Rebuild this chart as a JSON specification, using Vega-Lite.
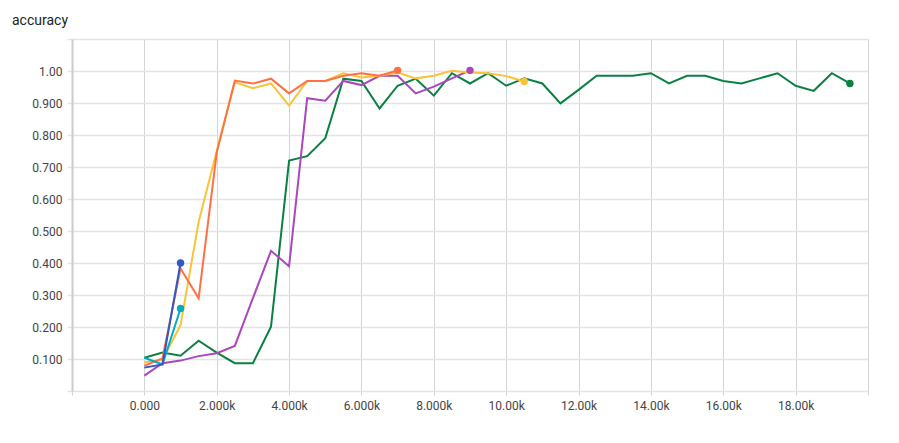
{
  "$schema": "https://vega.github.io/schema/vega-lite/v6.json",
  "width": 796,
  "height": 352,
  "autosize": {"type": "none"},
  "padding": {"left": 72, "top": 39, "right": 31, "bottom": 52},
  "background": "white",
  "title": {"text": "accuracy", "anchor": "start", "frame": "group", "dx": -60, "dy": 16, "offset": 12, "baseline": "bottom", "fontSize": 14, "font": "Roboto", "fontWeight": "normal", "color": "#212121"},
  "config": {
    "view": {"stroke": null},
    "font": "Roboto"
  },
  "datasets": {
    "runs": [
      {"run": "green", "step": 0, "acc": 0.104},
      {"run": "green", "step": 500, "acc": 0.12},
      {"run": "green", "step": 1000, "acc": 0.11},
      {"run": "green", "step": 1500, "acc": 0.157},
      {"run": "green", "step": 2000, "acc": 0.12},
      {"run": "green", "step": 2500, "acc": 0.087},
      {"run": "green", "step": 3000, "acc": 0.087},
      {"run": "green", "step": 3500, "acc": 0.201},
      {"run": "green", "step": 4000, "acc": 0.72},
      {"run": "green", "step": 4500, "acc": 0.734},
      {"run": "green", "step": 5000, "acc": 0.79},
      {"run": "green", "step": 5500, "acc": 0.976},
      {"run": "green", "step": 6000, "acc": 0.969},
      {"run": "green", "step": 6500, "acc": 0.883},
      {"run": "green", "step": 7000, "acc": 0.954},
      {"run": "green", "step": 7500, "acc": 0.976},
      {"run": "green", "step": 8000, "acc": 0.923},
      {"run": "green", "step": 8500, "acc": 0.993},
      {"run": "green", "step": 9000, "acc": 0.961},
      {"run": "green", "step": 9500, "acc": 0.993},
      {"run": "green", "step": 10000, "acc": 0.954},
      {"run": "green", "step": 10500, "acc": 0.977},
      {"run": "green", "step": 11000, "acc": 0.961},
      {"run": "green", "step": 11500, "acc": 0.899},
      {"run": "green", "step": 12000, "acc": 0.941},
      {"run": "green", "step": 12500, "acc": 0.985},
      {"run": "green", "step": 13000, "acc": 0.985},
      {"run": "green", "step": 13500, "acc": 0.985},
      {"run": "green", "step": 14000, "acc": 0.993},
      {"run": "green", "step": 14500, "acc": 0.961},
      {"run": "green", "step": 15000, "acc": 0.985},
      {"run": "green", "step": 15500, "acc": 0.985},
      {"run": "green", "step": 16000, "acc": 0.969},
      {"run": "green", "step": 16500, "acc": 0.961},
      {"run": "green", "step": 17000, "acc": 0.977},
      {"run": "green", "step": 17500, "acc": 0.993},
      {"run": "green", "step": 18000, "acc": 0.954},
      {"run": "green", "step": 18500, "acc": 0.938},
      {"run": "green", "step": 19000, "acc": 0.993},
      {"run": "green", "step": 19500, "acc": 0.961},
      {"run": "purple", "step": 0, "acc": 0.048},
      {"run": "purple", "step": 500, "acc": 0.087},
      {"run": "purple", "step": 1000, "acc": 0.095},
      {"run": "purple", "step": 1500, "acc": 0.109},
      {"run": "purple", "step": 2000, "acc": 0.118},
      {"run": "purple", "step": 2500, "acc": 0.141},
      {"run": "purple", "step": 3000, "acc": 0.29},
      {"run": "purple", "step": 3500, "acc": 0.438},
      {"run": "purple", "step": 4000, "acc": 0.39},
      {"run": "purple", "step": 4500, "acc": 0.915},
      {"run": "purple", "step": 5000, "acc": 0.907},
      {"run": "purple", "step": 5500, "acc": 0.969},
      {"run": "purple", "step": 6000, "acc": 0.956},
      {"run": "purple", "step": 6500, "acc": 0.985},
      {"run": "purple", "step": 7000, "acc": 0.985},
      {"run": "purple", "step": 7500, "acc": 0.93},
      {"run": "purple", "step": 8000, "acc": 0.951},
      {"run": "purple", "step": 8500, "acc": 0.977},
      {"run": "purple", "step": 9000, "acc": 1.002},
      {"run": "yellow", "step": 0, "acc": 0.09},
      {"run": "yellow", "step": 500, "acc": 0.097},
      {"run": "yellow", "step": 1000, "acc": 0.206},
      {"run": "yellow", "step": 1500, "acc": 0.528},
      {"run": "yellow", "step": 2000, "acc": 0.75},
      {"run": "yellow", "step": 2500, "acc": 0.965},
      {"run": "yellow", "step": 3000, "acc": 0.946},
      {"run": "yellow", "step": 3500, "acc": 0.961},
      {"run": "yellow", "step": 4000, "acc": 0.892},
      {"run": "yellow", "step": 4500, "acc": 0.969},
      {"run": "yellow", "step": 5000, "acc": 0.969},
      {"run": "yellow", "step": 5500, "acc": 0.993},
      {"run": "yellow", "step": 6000, "acc": 0.98},
      {"run": "yellow", "step": 6500, "acc": 0.985},
      {"run": "yellow", "step": 7000, "acc": 0.995},
      {"run": "yellow", "step": 7500, "acc": 0.977},
      {"run": "yellow", "step": 8000, "acc": 0.985},
      {"run": "yellow", "step": 8500, "acc": 1.001},
      {"run": "yellow", "step": 9000, "acc": 0.995},
      {"run": "yellow", "step": 9500, "acc": 0.993},
      {"run": "yellow", "step": 10000, "acc": 0.984},
      {"run": "yellow", "step": 10500, "acc": 0.967},
      {"run": "orange", "step": 0, "acc": 0.079},
      {"run": "orange", "step": 500, "acc": 0.102},
      {"run": "orange", "step": 1000, "acc": 0.383},
      {"run": "orange", "step": 1500, "acc": 0.29},
      {"run": "orange", "step": 2000, "acc": 0.745},
      {"run": "orange", "step": 2500, "acc": 0.97},
      {"run": "orange", "step": 3000, "acc": 0.961},
      {"run": "orange", "step": 3500, "acc": 0.976},
      {"run": "orange", "step": 4000, "acc": 0.93},
      {"run": "orange", "step": 4500, "acc": 0.969},
      {"run": "orange", "step": 5000, "acc": 0.969},
      {"run": "orange", "step": 5500, "acc": 0.985},
      {"run": "orange", "step": 6000, "acc": 0.993},
      {"run": "orange", "step": 6500, "acc": 0.985},
      {"run": "orange", "step": 7000, "acc": 1.002},
      {"run": "cyan", "step": 0, "acc": 0.104},
      {"run": "cyan", "step": 500, "acc": 0.083},
      {"run": "cyan", "step": 1000, "acc": 0.258},
      {"run": "blue", "step": 0, "acc": 0.073},
      {"run": "blue", "step": 500, "acc": 0.083},
      {"run": "blue", "step": 1000, "acc": 0.4}
    ]
  },
  "data": {"name": "runs"},
  "encoding": {
    "x": {
      "field": "step", "type": "quantitative",
      "scale": {"domain": [-2000, 20000], "nice": false, "zero": false},
      "axis": {
        "title": null,
        "values": [-2000, 0, 2000, 4000, 6000, 8000, 10000, 12000, 14000, 16000, 18000, 20000],
        "labelExpr": "datum.value < 0 || datum.value > 19000 ? '' : (datum.value == 0 ? '0.000' : (datum.value < 10000 ? format(datum.value / 1000, '.3f') + 'k' : format(datum.value / 1000, '.2f') + 'k'))",
        "domain": false,
        "grid": true, "gridColor": "#d4d4d4", "gridWidth": 1,
        "ticks": true, "tickColor": "#d4d4d4", "tickSize": 4,
        "labelPadding": 5, "labelFontSize": 12, "labelColor": "#444444", "labelFont": "Roboto"
      }
    },
    "y": {
      "field": "acc", "type": "quantitative",
      "scale": {"domain": [0, 1.1], "nice": false, "zero": false},
      "axis": {
        "title": null,
        "values": [0, 0.1, 0.2, 0.3, 0.4, 0.5, 0.6, 0.7, 0.8, 0.9, 1.0, 1.1],
        "labelExpr": "datum.value < 0.05 || datum.value > 1.05 ? '' : (datum.value > 0.995 ? format(datum.value, '.2f') : format(datum.value, '.3f'))",
        "domain": true, "domainColor": "#cccccc", "domainWidth": 2,
        "grid": true, "gridColor": "#e4e4e4", "gridWidth": 1.5,
        "ticks": true, "tickColor": "#e4e4e4", "tickSize": 5, "tickWidth": 1.5,
        "labelPadding": 5, "labelFontSize": 12, "labelColor": "#444444", "labelFont": "Roboto"
      }
    },
    "color": {
      "field": "run", "type": "nominal", "legend": null,
      "scale": {
        "domain": ["green", "purple", "yellow", "orange", "cyan", "blue"],
        "range": ["#0b8043", "#ab47bc", "#f9c33a", "#ff7043", "#00acc1", "#3357c4"]
      }
    }
  },
  "layer": [
    {
      "mark": {"type": "line", "strokeWidth": 2, "clip": true}
    },
    {
      "transform": [
        {"joinaggregate": [{"op": "max", "field": "step", "as": "laststep"}], "groupby": ["run"]},
        {"filter": "datum.step == datum.laststep"}
      ],
      "mark": {"type": "point", "filled": true, "opacity": 1, "size": 55}
    }
  ]
}
